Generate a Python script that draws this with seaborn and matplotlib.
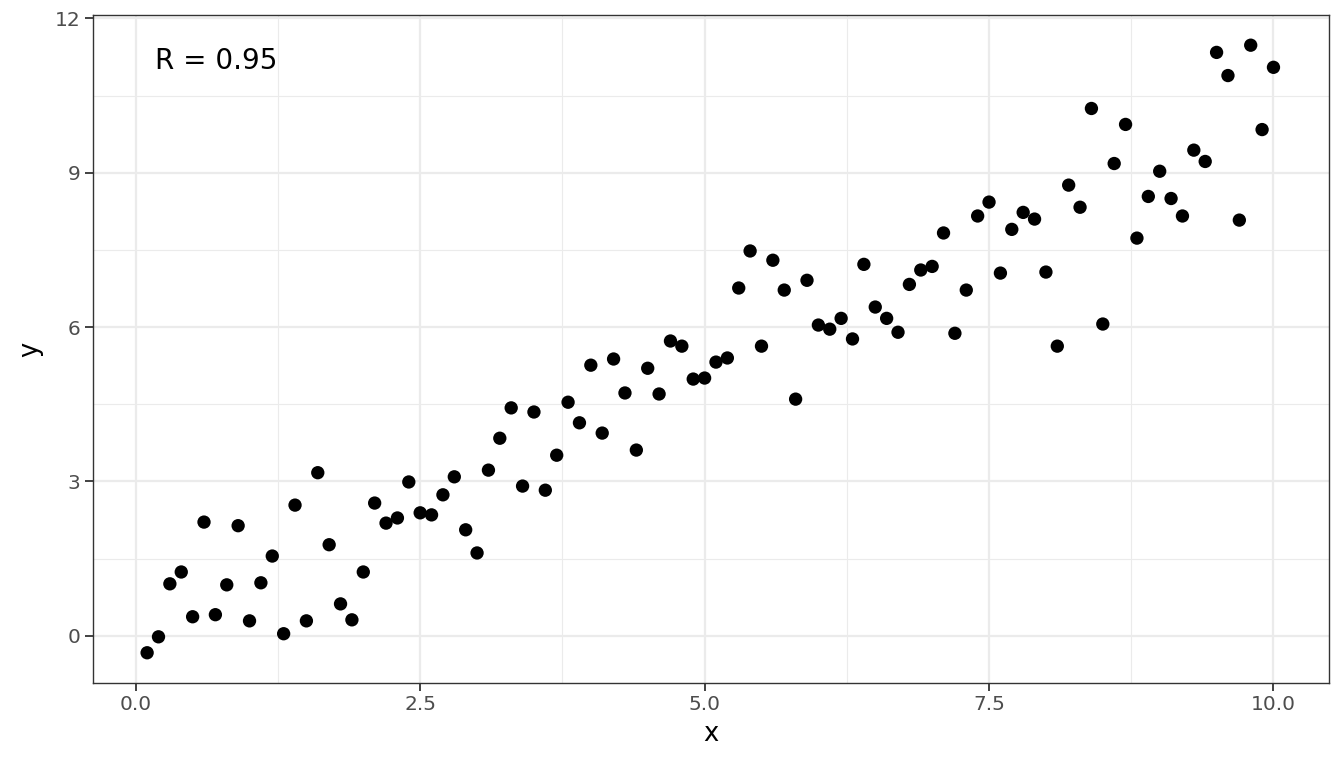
import numpy as np
import pandas as pd
import seaborn as sns
import matplotlib.pyplot as plt
from matplotlib.ticker import MultipleLocator

x_vals = [round(0.1 * i, 1) for i in range(1, 101)]
y_vals = [-0.33, -0.02, 1.01, 1.24, 0.37, 2.21, 0.41, 0.99, 2.14, 0.29,
          1.03, 1.55, 0.04, 2.54, 0.29, 3.17, 1.77, 0.62, 0.31, 1.24,
          2.58, 2.19, 2.29, 2.99, 2.39, 2.35, 2.74, 3.09, 2.06, 1.61,
          3.22, 3.84, 4.43, 2.91, 4.35, 2.83, 3.51, 4.54, 4.14, 5.26,
          3.94, 5.38, 4.72, 3.61, 5.20, 4.70, 5.73, 5.63, 4.99, 5.01,
          5.32, 5.40, 6.76, 7.48, 5.63, 7.30, 6.72, 4.60, 6.91, 6.04,
          5.96, 6.17, 5.77, 7.22, 6.39, 6.17, 5.90, 6.83, 7.11, 7.18,
          7.83, 5.88, 6.72, 8.16, 8.43, 7.05, 7.90, 8.23, 8.10, 7.07,
          5.63, 8.76, 8.33, 10.25, 6.06, 9.18, 9.94, 7.73, 8.54, 9.03,
          8.50, 8.16, 9.44, 9.22, 11.34, 10.89, 8.08, 11.48, 9.84, 11.05]
x_ticks = [0, 2.5, 5, 7.5, 10]
x_labels = ['0.0', '2.5', '5.0', '7.5', '10.0']
y_ticks = [0, 3, 6, 9, 12]
annotation = 'R = 0.95'

df = pd.DataFrame({'x': x_vals, 'y': y_vals})

sns.set_theme(style='white')
plt.rcParams['font.family'] = ['DejaVu Sans']

fig = plt.figure(figsize=(13.44, 7.68), dpi=100)
ax = fig.add_axes([0.069, 0.111, 0.92, 0.869])

sns.scatterplot(data=df, x='x', y='y', ax=ax, color='black', s=92,
                edgecolor='none', zorder=3)

ax.set_xlim(-0.378, 10.49)
ax.set_ylim(-0.913, 12.06)
ax.set_xticks(x_ticks)
ax.set_xticklabels(x_labels)
ax.set_yticks(y_ticks)
ax.set_yticklabels([str(t) for t in y_ticks])
ax.xaxis.set_minor_locator(MultipleLocator(1.25))
ax.yaxis.set_minor_locator(MultipleLocator(1.5))

ax.grid(which='major', color='#EBEBEB', linewidth=1.6, zorder=0)
ax.grid(which='minor', color='#EBEBEB', linewidth=0.8, zorder=0)
ax.set_axisbelow(True)

for sp in ax.spines.values():
    sp.set_color('#333333')
    sp.set_linewidth(1.0)

ax.tick_params(which='major', length=6, width=1.3, color='#333333',
               labelsize=14.5, labelcolor='#4D4D4D', pad=3,
               bottom=True, left=True)
ax.tick_params(which='minor', length=0)

ax.set_xlabel('x', fontsize=18.5, color='black', labelpad=5)
ax.set_ylabel('y', fontsize=18.5, color='black', labelpad=8)

ax.text(0.17, 11.18, annotation, ha='left', va='center', fontsize=20,
        color='black')

plt.savefig('out.png', dpi=100)
